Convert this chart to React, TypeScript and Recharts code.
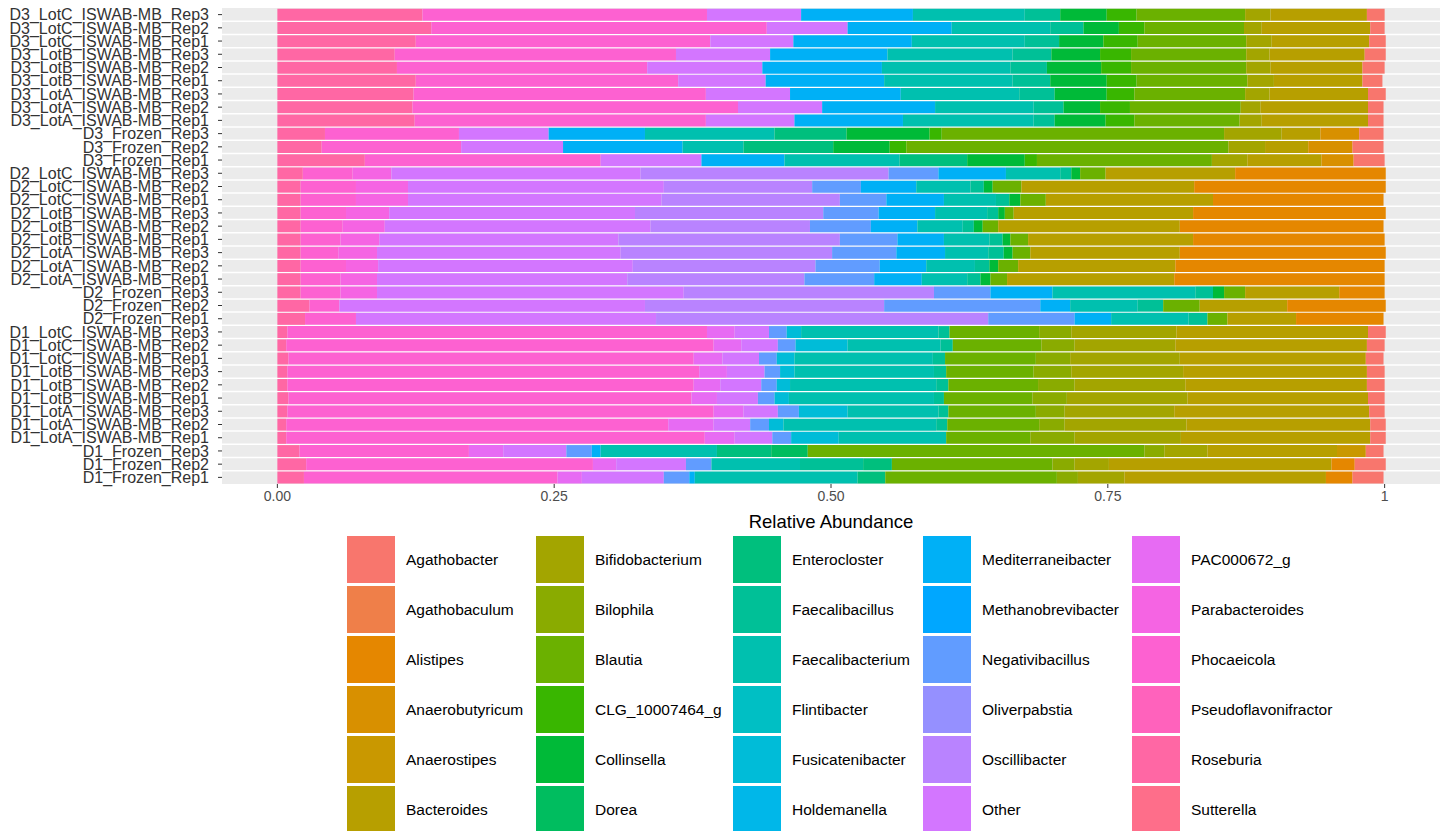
import React from 'react';
import { Bar, BarChart, CartesianGrid, XAxis, YAxis } from 'recharts';

// samples, top row first
const samples = [
  'D3_LotC_ISWAB-MB_Rep3', 'D3_LotC_ISWAB-MB_Rep2', 'D3_LotC_ISWAB-MB_Rep1',
  'D3_LotB_ISWAB-MB_Rep3', 'D3_LotB_ISWAB-MB_Rep2', 'D3_LotB_ISWAB-MB_Rep1',
  'D3_LotA_ISWAB-MB_Rep3', 'D3_LotA_ISWAB-MB_Rep2', 'D3_LotA_ISWAB-MB_Rep1',
  'D3_Frozen_Rep3', 'D3_Frozen_Rep2', 'D3_Frozen_Rep1',
  'D2_LotC_ISWAB-MB_Rep3', 'D2_LotC_ISWAB-MB_Rep2', 'D2_LotC_ISWAB-MB_Rep1',
  'D2_LotB_ISWAB-MB_Rep3', 'D2_LotB_ISWAB-MB_Rep2', 'D2_LotB_ISWAB-MB_Rep1',
  'D2_LotA_ISWAB-MB_Rep3', 'D2_LotA_ISWAB-MB_Rep2', 'D2_LotA_ISWAB-MB_Rep1',
  'D2_Frozen_Rep3', 'D2_Frozen_Rep2', 'D2_Frozen_Rep1',
  'D1_LotC_ISWAB-MB_Rep3', 'D1_LotC_ISWAB-MB_Rep2', 'D1_LotC_ISWAB-MB_Rep1',
  'D1_LotB_ISWAB-MB_Rep3', 'D1_LotB_ISWAB-MB_Rep2', 'D1_LotB_ISWAB-MB_Rep1',
  'D1_LotA_ISWAB-MB_Rep3', 'D1_LotA_ISWAB-MB_Rep2', 'D1_LotA_ISWAB-MB_Rep1',
  'D1_Frozen_Rep3', 'D1_Frozen_Rep2', 'D1_Frozen_Rep1',
];

// legend order
const genera = [
  'Agathobacter', 'Agathobaculum', 'Alistipes', 'Anaerobutyricum', 'Anaerostipes', 'Bacteroides',
  'Bifidobacterium', 'Bilophila', 'Blautia', 'CLG_10007464_g', 'Collinsella', 'Dorea',
  'Enterocloster', 'Faecalibacillus', 'Faecalibacterium', 'Flintibacter', 'Fusicatenibacter', 'Holdemanella',
  'Mediterraneibacter', 'Methanobrevibacter', 'Negativibacillus', 'Oliverpabstia', 'Oscillibacter', 'Other',
  'PAC000672_g', 'Parabacteroides', 'Phocaeicola', 'Pseudoflavonifractor', 'Roseburia', 'Sutterella',
];

// relative abundance in %, one value per sample (D3 / D2 / D1 lines)
const agathobacter = [
  1.6, 1.3, 1.5, 1.9, 2.0, 1.8, 1.6, 1.4, 1.4, 2.2, 2.8, 2.8,
  0, 0, 0, 0, 0, 0, 0, 0, 0, 0, 0, 0,
  1.6, 1.6, 1.6, 1.6, 1.6, 1.5, 1.4, 1.4, 1.4, 1.6, 2.8, 2.8,
];
const agathobaculum = [
  0, 0, 0, 0, 0, 0, 0, 0, 0, 0, 0, 0,
  0, 0, 0, 0, 0, 0, 0, 0, 0, 0, 0, 0,
  0, 0, 0, 0, 0, 0, 0, 0, 0, 0, 0, 0,
];
const alistipes = [
  0, 0, 0, 0, 0, 0, 0, 0, 0, 0, 0, 0,
  13.6, 17.3, 15.4, 17.4, 18.4, 17.3, 18.6, 18.9, 19.0, 4.1, 8.9, 7.9,
  0, 0, 0, 0, 0, 0, 0, 0, 0, 0, 2.1, 2.4,
];
const anaerobutyricum = [
  0, 0, 0, 0, 0, 0, 0, 0, 0, 3.5, 4.0, 2.9,
  0, 0, 0, 0, 0, 0, 0, 0, 0, 0, 0, 0,
  0, 0, 0, 0, 0, 0, 0, 0, 0, 0, 0, 0,
];
const anaerostipes = [
  0, 0, 0, 0, 0, 0, 0, 0, 0, 0, 0, 0,
  0, 0, 0, 0, 0, 0, 0, 0, 0, 0, 0, 0,
  0, 0, 0, 0, 0, 0, 0, 0, 0, 2.6, 0, 0,
];
const bacteroides = [
  8.7, 9.8, 8.8, 8.6, 8.3, 8.0, 8.9, 9.7, 9.6, 3.5, 3.9, 6.7,
  11.7, 15.6, 15.1, 16.2, 16.4, 14.9, 13.5, 14.2, 15.1, 8.5, 7.9, 6.2,
  17.3, 17.3, 16.8, 16.6, 16.4, 16.3, 17.6, 16.6, 17.1, 11.7, 20.1, 18.2,
];
const bifidobacterium = [
  2.3, 1.6, 2.3, 2.1, 2.2, 2.4, 2.2, 1.8, 2.0, 5.2, 3.3, 3.2,
  0, 0, 0, 0, 0, 0, 0, 0, 0, 0, 0, 0,
  9.5, 9.1, 9.9, 10.1, 10.0, 10.9, 9.9, 11.0, 9.6, 3.9, 3.1, 4.2,
];
const bilophila = [
  0, 0, 0, 0, 0, 0, 0, 0, 0, 0, 0, 0,
  0, 0, 0, 0, 0, 0, 0, 0, 0, 0, 0, 0,
  2.9, 3.0, 3.1, 3.4, 3.3, 3.1, 2.6, 2.3, 4.0, 1.8, 2.0, 1.9,
];
const blautia = [
  9.8, 9.0, 9.8, 10.4, 10.4, 10.0, 10.0, 10.0, 9.5, 25.5, 29.1, 15.8,
  2.3, 2.6, 2.3, 0.8, 1.4, 1.6, 1.6, 1.8, 1.5, 1.9, 3.3, 1.8,
  8.1, 8.0, 8.2, 7.9, 8.1, 8.0, 7.9, 8.3, 7.6, 30.4, 14.5, 15.5,
];
const clg10007464 = [
  2.7, 2.3, 3.1, 2.8, 2.7, 2.7, 2.5, 2.7, 2.6, 1.1, 1.5, 1.1,
  0, 0, 0, 0, 0, 0, 0, 0, 0, 0, 0, 0,
  0, 0, 0, 0, 0, 0, 0, 0, 0, 0, 0, 0,
];
const collinsella = [
  4.2, 3.2, 4.0, 4.4, 4.9, 5.1, 4.7, 3.3, 4.6, 7.5, 5.1, 5.2,
  0.8, 0.8, 1.0, 0.6, 0.8, 0.7, 0.8, 0.8, 0.9, 1.0, 0, 0,
  0, 0, 0, 0, 0, 0, 0, 0, 0, 0, 0, 0,
];
const dorea = [
  0, 0, 0, 0, 0, 0, 0, 0, 0, 0, 0, 0,
  0, 0, 0, 0, 0, 0, 0, 0, 0, 0, 0, 0,
  0, 0, 0, 0, 0, 0, 0, 0, 0, 3.3, 0, 0,
];
const enterocloster = [
  0, 0, 0, 0, 0, 0, 0, 0, 0, 6.5, 8.1, 6.1,
  0, 0, 0, 0, 0, 0, 0, 0, 0, 0, 0, 0,
  0, 0, 0, 0, 0, 0, 0, 0, 0, 4.9, 2.6, 2.5,
];
const faecalibacillus = [
  3.2, 3.0, 3.1, 3.5, 3.3, 3.4, 3.2, 2.7, 1.9, 0, 0, 0,
  1.0, 1.2, 1.2, 1.0, 1.0, 1.2, 1.4, 1.3, 1.2, 1.6, 2.3, 1.7,
  1.0, 1.1, 1.1, 1.1, 1.1, 0.9, 0.9, 1.0, 0, 0, 5.7, 0,
];
const faecalibacterium = [
  10.1, 8.9, 10.2, 11.3, 11.6, 11.6, 10.7, 8.9, 11.8, 11.7, 5.5, 10.4,
  4.9, 4.9, 4.7, 4.7, 4.1, 4.1, 3.9, 4.4, 4.1, 12.9, 6.1, 7.0,
  12.4, 8.4, 12.5, 12.6, 13.2, 13.1, 8.2, 13.8, 9.7, 10.5, 8.0, 14.7,
];
const flintibacter = [
  0, 0, 0, 0, 0, 0, 0, 0, 0, 0, 0, 0,
  0, 0, 0, 0, 0, 0, 0, 0, 0, 0, 0, 0,
  0, 0, 0, 0, 0, 0, 0, 0, 0, 0, 0, 0,
];
const fusicatenibacter = [
  0, 0, 0, 0, 0, 0, 0, 0, 0, 0, 0, 0,
  0, 0, 0, 0, 0, 0, 0, 0, 0, 0, 0, 0,
  1.3, 4.7, 1.6, 1.3, 1.2, 1.3, 4.4, 1.3, 4.3, 0, 0, 0,
];
const holdemanella = [
  0, 0, 0, 0, 0, 0, 0, 0, 0, 0, 0, 0,
  0, 0, 0, 0, 0, 0, 0, 0, 0, 0, 0, 0,
  0, 0, 0, 0, 0, 0, 0, 0, 0, 0, 0, 0,
];
const mediterraneibacter = [
  10.1, 9.4, 10.7, 10.6, 10.8, 10.7, 10.0, 10.2, 9.8, 8.7, 10.8, 7.5,
  6.1, 5.0, 5.2, 5.1, 4.2, 4.2, 4.4, 4.2, 4.3, 5.6, 2.7, 3.3,
  0, 0, 0, 0, 0, 0, 0, 0, 0, 0.8, 0, 0.5,
];
const methanobrevibacter = [
  0, 0, 0, 0, 0, 0, 0, 0, 0, 0, 0, 0,
  0, 0, 0, 0, 0, 0, 0, 0, 0, 0, 0, 0,
  0, 0, 0, 0, 0, 0, 0, 0, 0, 0, 0, 0,
];
const negativibacillus = [
  0, 0, 0, 0, 0, 0, 0, 0, 0, 0, 0, 0,
  4.5, 4.4, 4.2, 5.0, 5.5, 5.2, 5.8, 5.8, 6.3, 5.1, 14.1, 7.8,
  1.6, 1.6, 1.6, 1.4, 1.4, 1.5, 1.9, 1.7, 1.7, 2.3, 2.3, 2.3,
];
const oliverpabstia = [
  0, 0, 0, 0, 0, 0, 0, 0, 0, 0, 0, 0,
  0, 0, 0, 0, 0, 0, 0, 0, 0, 0, 0, 0,
  0, 0, 0, 0, 0, 0, 0, 0, 0, 0, 0, 0,
];
const oscillibacter = [
  0, 0, 0, 0, 0, 0, 0, 0, 0, 0, 0, 0,
  22.4, 13.4, 16.1, 17.0, 14.4, 20.0, 19.1, 16.5, 16.0, 22.6, 21.6, 30.0,
  0, 0, 0, 0, 0, 0, 0, 0, 0, 0, 0, 0,
];
const other = [
  8.5, 7.3, 7.5, 8.5, 10.4, 7.9, 7.6, 7.6, 8.0, 8.1, 9.2, 9.1,
  22.5, 23.1, 22.9, 22.2, 24.0, 21.6, 22.0, 23.0, 22.6, 27.7, 27.6, 27.1,
  3.1, 3.3, 3.3, 3.4, 3.7, 3.7, 3.1, 3.3, 3.4, 5.7, 6.3, 7.4,
];
const pac000672 = [
  0, 0, 0, 0, 0, 0, 0, 0, 0, 0, 0, 0,
  0, 0, 0, 0, 0, 0, 0, 0, 0, 0, 0, 0,
  2.5, 2.5, 2.6, 2.5, 2.4, 2.3, 2.7, 4.1, 2.7, 3.1, 2.1, 2.2,
];
const parabacteroides = [
  0, 0, 0, 0, 0, 0, 0, 0, 0, 0, 0, 0,
  3.5, 4.7, 4.7, 3.9, 3.8, 3.5, 3.5, 2.9, 3.3, 3.3, 0, 0,
  0, 0, 0, 0, 0, 0, 0, 0, 0, 0, 0, 0,
];
const phocaeicola = [
  25.7, 30.3, 26.6, 25.4, 22.6, 23.7, 26.4, 29.4, 26.3, 12.1, 12.6, 21.3,
  4.5, 5.0, 5.0, 4.1, 3.8, 3.6, 3.4, 4.1, 3.6, 3.6, 2.7, 4.6,
  37.9, 38.6, 36.6, 37.2, 36.7, 36.4, 38.5, 34.5, 37.8, 15.3, 25.9, 22.9,
];
const pseudoflavonifractor = [
  0, 0, 0, 0, 0, 0, 0, 0, 0, 0, 0, 0,
  0, 0, 0, 0, 0, 0, 0, 0, 0, 0, 0, 0,
  0, 0, 0, 0, 0, 0, 0, 0, 0, 0, 0, 0,
];
const roseburia = [
  13.1, 13.9, 12.5, 10.6, 10.8, 12.5, 12.3, 12.2, 12.4, 4.3, 4.0, 7.9,
  2.3, 2.1, 2.1, 2.1, 2.1, 2.1, 2.1, 2.1, 2.1, 2.1, 2.9, 2.5,
  0.9, 0.8, 1.0, 0.9, 0.9, 1.0, 0.9, 0.8, 0.8, 2.0, 2.6, 2.4,
];
const sutterella = [
  0, 0, 0, 0, 0, 0, 0, 0, 0, 0, 0, 0,
  0, 0, 0, 0, 0, 0, 0, 0, 0, 0, 0, 0,
  0, 0, 0, 0, 0, 0, 0, 0, 0, 0, 0, 0,
];

const xTicks = [0, 0.25, 0.5, 0.75, 1];

const abundance: Record<string, number[]> = {
  Agathobacter: agathobacter,
  Agathobaculum: agathobaculum,
  Alistipes: alistipes,
  Anaerobutyricum: anaerobutyricum,
  Anaerostipes: anaerostipes,
  Bacteroides: bacteroides,
  Bifidobacterium: bifidobacterium,
  Bilophila: bilophila,
  Blautia: blautia,
  CLG_10007464_g: clg10007464,
  Collinsella: collinsella,
  Dorea: dorea,
  Enterocloster: enterocloster,
  Faecalibacillus: faecalibacillus,
  Faecalibacterium: faecalibacterium,
  Flintibacter: flintibacter,
  Fusicatenibacter: fusicatenibacter,
  Holdemanella: holdemanella,
  Mediterraneibacter: mediterraneibacter,
  Methanobrevibacter: methanobrevibacter,
  Negativibacillus: negativibacillus,
  Oliverpabstia: oliverpabstia,
  Oscillibacter: oscillibacter,
  Other: other,
  PAC000672_g: pac000672,
  Parabacteroides: parabacteroides,
  Phocaeicola: phocaeicola,
  Pseudoflavonifractor: pseudoflavonifractor,
  Roseburia: roseburia,
  Sutterella: sutterella,
};

const data = samples.map((sample, i) => {
  const row: Record<string, string | number> = { sample };
  genera.forEach((g) => {
    row[g] = abundance[g][i] / 100;
  });
  return row;
});

// ggplot2 default hue palette (hcl, c = 100, l = 65)
function hcl(h: number, c = 100, l = 65) {
  const hr = (h * Math.PI) / 180;
  const u = c * Math.cos(hr);
  const v = c * Math.sin(hr);
  const Xn = 95.047, Yn = 100, Zn = 108.883;
  const d = Xn + 15 * Yn + 3 * Zn;
  const un = (4 * Xn) / d;
  const vn = (9 * Yn) / d;
  const Y = Yn * Math.pow((l + 16) / 116, 3);
  const up = u / (13 * l) + un;
  const vp = v / (13 * l) + vn;
  const X = (Y * 9 * up) / (4 * vp);
  const Z = (Y * (12 - 3 * up - 20 * vp)) / (4 * vp);
  const x = X / 100, y = Y / 100, z = Z / 100;
  const lin = [
    3.2406 * x - 1.5372 * y - 0.4986 * z,
    -0.9689 * x + 1.8758 * y + 0.0415 * z,
    0.0557 * x - 0.204 * y + 1.057 * z,
  ];
  return (
    '#' +
    lin
      .map((ch) => {
        let g = ch <= 0.0031308 ? 12.92 * ch : 1.055 * Math.pow(ch, 1 / 2.4) - 0.055;
        g = Math.min(1, Math.max(0, g));
        return Math.round(g * 255).toString(16).padStart(2, '0');
      })
      .join('')
  );
}

const colors: Record<string, string> = {};
genera.forEach((g, i) => {
  colors[g] = hcl(15 + (360 / genera.length) * i);
});

// ggplot stacks the last level first, so Sutterella sits at 0
const stackOrder = [...genera].reverse();

const legendColumnWidths = [189, 197, 190, 209, 190];

const App = () => {
  return (
    <div
      style={{
        position: 'absolute',
        left: 0,
        top: 0,
        width: 1445,
        height: 831,
        overflow: 'hidden',
        background: '#fff',
        fontFamily: '"Liberation Sans", Arial, Helvetica, sans-serif',
      }}
    >
      <BarChart
        width={1445}
        height={535}
        data={data}
        layout="vertical"
        margin={{ top: 8, right: 5, left: 0, bottom: 0 }}
        barCategoryGap={0.75}
      >
        <CartesianGrid
          vertical={false}
          fill="#EBEBEB"
          stroke="#ffffff"
          strokeWidth={1.5}
          horizontalCoordinatesGenerator={({ offset }: any) =>
            samples.map((_, i) => offset.top + ((i + 1) * offset.height) / samples.length).slice(0, -1)
          }
        />
        <XAxis
          type="number"
          domain={[-0.05, 1.05]}
          ticks={xTicks}
          allowDataOverflow
          tickFormatter={(v: number) => (v === 1 ? '1' : v.toFixed(2))}
          axisLine={false}
          tickLine={{ stroke: '#333333' }}
          tickSize={4}
          tickMargin={3}
          height={51}
          tick={{ fontSize: 14, fill: '#4D4D4D' }}
          label={{
            value: 'Relative Abundance',
            position: 'insideBottom',
            offset: 7,
            fill: '#000000',
            fontSize: 18.5,
          }}
        />
        <YAxis
          type="category"
          dataKey="sample"
          width={222}
          interval={0}
          axisLine={false}
          tickLine={{ stroke: '#333333' }}
          tickSize={4}
          tickMargin={9}
          tick={{ fontSize: 16, fill: '#333333' }}
        />
        {stackOrder.map((g) => (
          <Bar key={g} dataKey={g} stackId="a" fill={colors[g]} isAnimationActive={false} />
        ))}
      </BarChart>
      <div style={{ position: 'absolute', left: 347, top: 534.5, display: 'flex' }}>
        {legendColumnWidths.map((w, col) => (
          <div key={col} style={{ width: w }}>
            {genera.slice(col * 6, col * 6 + 6).map((g) => (
              <div key={g} style={{ height: 50, display: 'flex', alignItems: 'center' }}>
                <div style={{ width: 48, height: 47, background: colors[g], flexShrink: 0 }} />
                <span style={{ marginLeft: 11, fontSize: 15.5, color: '#000', whiteSpace: 'nowrap' }}>
                  {g}
                </span>
              </div>
            ))}
          </div>
        ))}
      </div>
    </div>
  );
};

export default App;
